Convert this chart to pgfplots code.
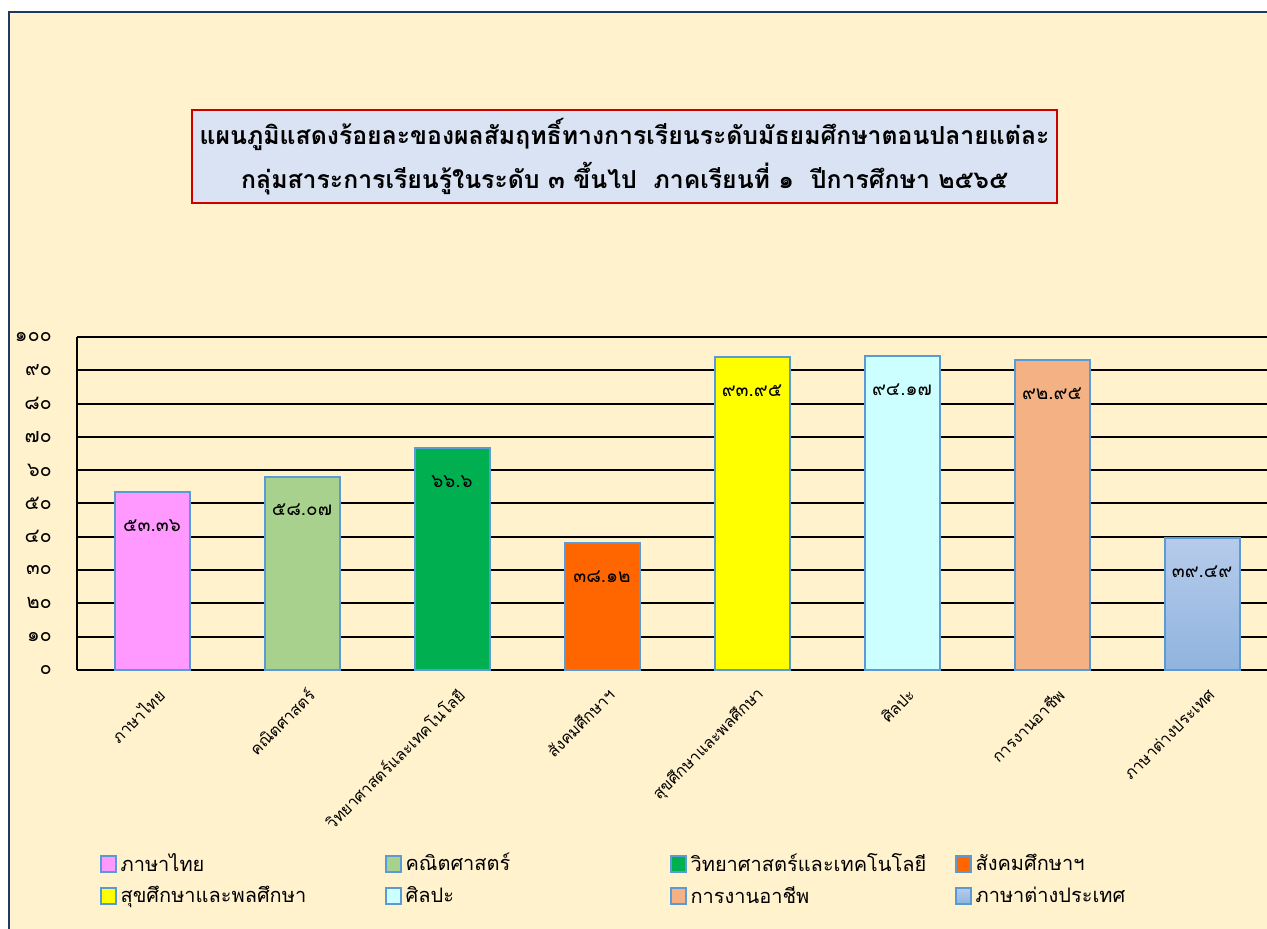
\documentclass[border=0pt]{standalone}
\usepackage{fontspec}
\setmainfont{Loma}[Script=Thai]
\usepackage{pgfplots}
\pgfplotsset{compat=1.18}
\definecolor{bgc}{RGB}{255,242,204}
\definecolor{navy}{RGB}{31,56,100}
\definecolor{titlefill}{RGB}{218,227,243}
\definecolor{titlered}{RGB}{204,0,0}
\definecolor{bb}{RGB}{91,155,213}
\definecolor{c1}{RGB}{255,153,255}
\definecolor{c2}{RGB}{169,209,142}
\definecolor{c3}{RGB}{0,176,80}
\definecolor{c4}{RGB}{255,102,0}
\definecolor{c5}{RGB}{255,255,0}
\definecolor{c6}{RGB}{204,255,255}
\definecolor{c7}{RGB}{244,177,131}
\definecolor{c8t}{RGB}{182,203,235}
\definecolor{c8b}{RGB}{143,180,222}
\begin{document}
\begin{tikzpicture}
\useasboundingbox (0,0) rectangle (633.5pt,464.5pt);
\clip (0,0) rectangle (633.5pt,464.5pt);
\fill[white] (0,0) rectangle (633.5pt,464.5pt);
\draw[navy, line width=1.25pt, fill=bgc] (4.5pt,-10pt) rectangle (660pt,458.5pt);
\node[draw=titlered, line width=1pt, fill=titlefill, minimum width=432.5pt, minimum height=46.5pt, align=center, font=\bfseries\fontsize{12.4}{22}\selectfont, inner sep=0pt] at (312.25pt,386.25pt)
{แผนภูมิแสดงร้อยละของผลสัมฤทธิ์ทางการเรียนระดับมัธยมศึกษาตอนปลายแต่ละ\\กลุ่มสาระการเรียนรู้ในระดับ ๓ ขึ้นไป\ \ ภาคเรียนที่ ๑\ \ ปีการศึกษา ๒๕๖๕};
\begin{axis}[
  at={(38.5pt,129.5pt)}, anchor=south west,
  scale only axis, width=600pt, height=166.5pt,
  xmin=-0.5, xmax=7.5, ymin=0, ymax=100,
  ybar, bar width=0.5,
  axis x line*=bottom, axis y line*=left,
  axis line style={black, line width=1pt},
  ymajorgrids, grid style={black, line width=1pt},
  major tick length=0pt,
  ytick={0,10,...,100},
  yticklabels={๐,๑๐,๒๐,๓๐,๔๐,๕๐,๖๐,๗๐,๘๐,๙๐,๑๐๐},
  yticklabel style={font=\fontsize{10}{11}\selectfont, anchor=east, xshift=-9pt},
  xtick={0,...,7},
  xticklabels={ภาษาไทย,คณิตศาสตร์,วิทยาศาสตร์และเทคโนโลยี,สังคมศึกษาฯ,สุขศึกษาและพลศึกษา,ศิลปะ,การงานอาชีพ,ภาษาต่างประเทศ},
  xticklabel style={font=\fontsize{8}{9}\selectfont, rotate=45, anchor=east, xshift=-1pt, yshift=-11pt},
  nodes near coords, point meta=explicit symbolic,
  nodes near coords align=below,
  every node near coord/.append style={font=\fontsize{9.5}{11}\selectfont, yshift=-10pt, black},
  legend columns=4,
  legend cell align=left,
  legend style={at={(0.0135,-0.525)}, anchor=north west, draw=none, fill=none,
    font=\fontsize{10}{11}\selectfont, row sep=2pt,
    /tikz/every even column/.append style={column sep=0pt}},
  legend image code/.code={\draw[#1, line width=1pt] (0pt,-4pt) rectangle (7.5pt,4pt);},
  clip=false,
]
\addplot[bar shift=0pt, fill=c1, draw=bb, line width=1pt] coordinates {(0,53.36) [๕๓.๓๖]};
\addlegendentry{\makebox[130pt][l]{ภาษาไทย}}
\addplot[bar shift=0pt, fill=c2, draw=bb, line width=1pt] coordinates {(1,58.07) [๕๘.๐๗]};
\addlegendentry{\makebox[130pt][l]{คณิตศาสตร์}}
\addplot[bar shift=0pt, fill=c3, draw=bb, line width=1pt] coordinates {(2,66.6) [๖๖.๖]};
\addlegendentry{\makebox[130pt][l]{วิทยาศาสตร์และเทคโนโลยี}}
\addplot[bar shift=0pt, fill=c4, draw=bb, line width=1pt] coordinates {(3,38.12) [๓๘.๑๒]};
\addlegendentry{\makebox[130pt][l]{สังคมศึกษาฯ}}
\addplot[bar shift=0pt, fill=c5, draw=bb, line width=1pt] coordinates {(4,93.95) [๙๓.๙๕]};
\addlegendentry{\makebox[130pt][l]{สุขศึกษาและพลศึกษา}}
\addplot[bar shift=0pt, fill=c6, draw=bb, line width=1pt] coordinates {(5,94.17) [๙๔.๑๗]};
\addlegendentry{\makebox[130pt][l]{ศิลปะ}}
\addplot[bar shift=0pt, fill=c7, draw=bb, line width=1pt] coordinates {(6,92.95) [๙๒.๙๕]};
\addlegendentry{\makebox[130pt][l]{การงานอาชีพ}}
\addplot[bar shift=0pt, top color=c8t, bottom color=c8b, draw=bb, line width=1pt] coordinates {(7,39.49) [๓๙.๔๙]};
\addlegendentry{\makebox[130pt][l]{ภาษาต่างประเทศ}}
\end{axis}
\end{tikzpicture}
\end{document}
